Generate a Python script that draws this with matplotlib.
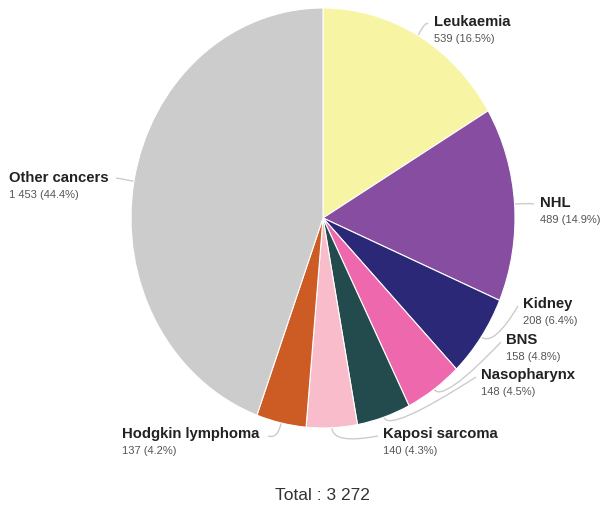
import numpy as np
import matplotlib
matplotlib.use("Agg")
import matplotlib.pyplot as plt
from matplotlib.path import Path
from matplotlib.patches import PathPatch

categories = ["Leukaemia", "NHL", "Kidney", "BNS", "Nasopharynx",
              "Kaposi sarcoma", "Hodgkin lymphoma", "Other cancers"]
values = [539, 489, 208, 158, 148, 140, 137, 1453]
value_labels = ["539 (16.5%)", "489 (14.9%)", "208 (6.4%)", "158 (4.8%)",
                "148 (4.5%)", "140 (4.3%)", "137 (4.2%)", "1 453 (44.4%)"]
total_label = "Total : 3 272"
colors = ["#f7f4a4", "#874da0", "#2b2878", "#ee68ae", "#234a4c",
          "#f8bccb", "#cc5b24", "#cccccc"]

plt.rcParams['font.family'] = ['Liberation Sans', 'DejaVu Sans']

W, H = 600, 505
fig = plt.figure(figsize=(W / 100, H / 100), dpi=100)

# pie geometry in pixels (slightly elliptical, like the reference)
cx, cy, rx, ry = 323, 218, 192, 210
ax = fig.add_axes([(cx - rx) / W, 1 - (cy + ry) / H, 2 * rx / W, 2 * ry / H])
ax.pie(values, colors=colors, startangle=90, counterclock=False,
       wedgeprops=dict(edgecolor="white", linewidth=0.8))
ax.set_aspect('auto')
ax.set_xlim(-1, 1)
ax.set_ylim(-1, 1)
ax.axis('off')

# overlay in pixel coords for labels and connectors
ov = fig.add_axes([0, 0, 1, 1], zorder=-1)
ov.set_xlim(0, W)
ov.set_ylim(H, 0)
ov.axis('off')

# label layout: (x, y of name, connector end)
layout = [
    (434, 22, (428, 24)),
    (540, 203, (534, 204)),
    (523, 304, (518, 306)),
    (506, 340, (501, 342)),
    (481, 375, (476, 377)),
    (383, 434, (378, 436)),
    (122, 434, (268, 436)),
    (9, 178, (116, 178)),
]

vals = np.array(values, dtype=float)
cum = np.cumsum(vals) - vals / 2
fracs = cum / vals.sum()
for name, vlab, frac, (lx, ly, end) in zip(categories, value_labels, fracs, layout):
    theta = np.deg2rad(90 - 360 * frac)
    sx = cx + rx * np.cos(theta)
    sy = cy - ry * np.sin(theta)
    kx = cx + rx * 1.08 * np.cos(theta)
    ky = cy - ry * 1.08 * np.sin(theta)
    path = Path([(sx, sy), (kx, ky), end], [Path.MOVETO, Path.CURVE3, Path.CURVE3])
    ov.add_patch(PathPatch(path, fill=False, edgecolor="#cccccc", linewidth=1.0))
    fig.text(lx / W, 1 - ly / H, name, ha='left', va='center', fontsize=10.7,
             fontweight='bold', color='#222222')
    fig.text(lx / W, 1 - (ly + 17) / H, vlab, ha='left', va='center', fontsize=8,
             color='#555555')

fig.text(322 / W, 1 - 496 / H, total_label, ha='center', va='center',
         fontsize=12.5, color='#333333')

fig.savefig("out.png", dpi=100, facecolor="white")
